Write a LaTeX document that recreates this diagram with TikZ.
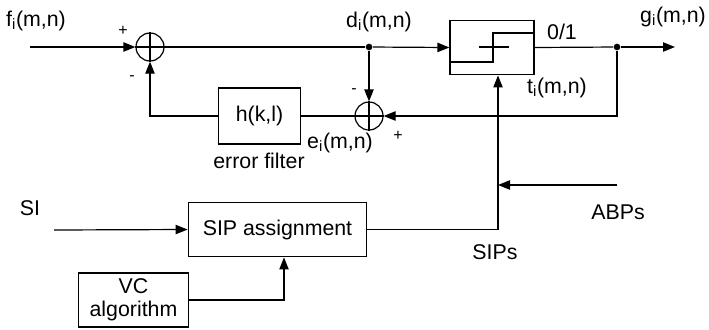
\documentclass[tikz,border=0pt]{standalone}
\usepackage{fontspec}
\setmainfont{Liberation Sans}
\usetikzlibrary{arrows.meta,calc}

\begin{document}
\begin{tikzpicture}[x=0.75pt, y=-0.75pt, line width=0.9pt,
  font=\fontsize{16}{17.5}\selectfont,
  blk/.style={draw, inner sep=0pt, align=center},
  sum/.style={draw, circle, minimum size=21pt, inner sep=0pt},
  dot/.style={fill, circle, inner sep=0pt, minimum size=5pt},
  sgn/.style={font=\fontsize{12}{13}\selectfont},
  arr/.style={-{Triangle[length=9pt,width=7pt]}},
]
  \useasboundingbox (0,0) rectangle (709,329);

  \coordinate (fin) at (30,47);
  \node[sum] (s1) at (150,47) {};
  \node[dot] (d) at (369,47) {};
  \node[sum] (s2) at (369,116) {};
  \node[blk, minimum width=63pt, minimum height=41pt] (thr) at (492,47.5) {};
  \node[dot] (g) at (617,47) {};
  \coordinate (gout) at (675,47);
  \node[blk, minimum width=62pt, minimum height=42pt] (h) at (259.5,116) {h(k,l)};

  \node[blk, minimum width=134pt, minimum height=41pt] (sip) at (277.5,229.5) {SIP assignment};
  \node[blk, minimum width=82pt, minimum height=40.5pt] (vc) at (133.5,300) {VC\\algorithm};
  \coordinate (si) at (54,230);
  \coordinate (tap) at (498,185);
  \coordinate (abp) at (617,185);

  \draw (s1.north) -- (s1.south) (s1.west) -- (s1.east);
  \draw (s2.north) -- (s2.south) (s2.west) -- (s2.east);
  \draw (thr.west |- 0,62) -- (493,62) -- (493,33) -- (thr.east |- 0,33);
  \draw (479,47) -- (509,47);

  \node (fl) at (36,21) {f\textsubscript{i}(m,n)};
  \node (dl) at (379,22) {d\textsubscript{i}(m,n)};
  \node (gl) at (673,17) {g\textsubscript{i}(m,n)};
  \node (zl) at (562,32) {0/1};
  \node (tl) at (557,88) {t\textsubscript{i}(m,n)};
  \node (el) at (340,143) {e\textsubscript{i}(m,n)};
  \node (hl) at (259,161) {error filter};
  \node (sil) at (30,208) {SI};
  \node (abl) at (618,212) {ABPs};
  \node (sipl) at (495,252) {SIPs};
  \node[sgn] (p1) at (123,31) {+};
  \node[sgn] (m1) at (132,78) {-};
  \node[sgn] (m2) at (354,91) {-};
  \node[sgn] (p2) at (398,136) {+};

  \draw[arr] (fin) -- (s1.west);
  \draw (s1.east) -- (d);
  \draw[arr] (d) -- (thr.west);
  \draw[arr] (d) -- (s2.north);
  \draw (thr.east) -- (g);
  \draw[arr] (g) -- (gout);
  \draw[arr] (g) |- (s2.east);
  \draw (s2.west) -- (h.east);
  \draw[arr] (h.west) -| (s1.south);
  \draw[arr] (si) -- (sip.west);
  \draw[arr] (vc.east) -| ($(sip.south)+(6.5,0)$);
  \draw (sip.east) -| (tap);
  \draw[arr] (tap) -- (tap |- thr.south);
  \draw[arr] (abp) -- (tap);
\end{tikzpicture}
\end{document}
